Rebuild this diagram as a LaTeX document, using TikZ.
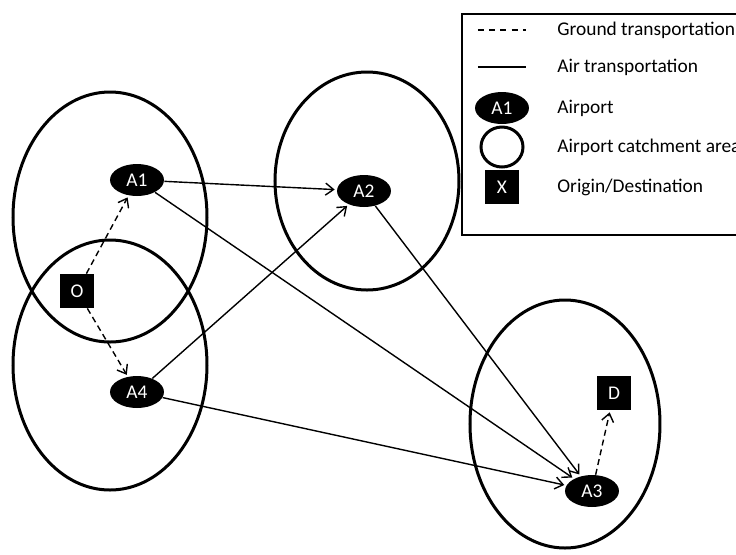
\documentclass[tikz,border=0pt]{standalone}
\usepackage{fontspec}
\setmainfont{Carlito}
\usetikzlibrary{arrows.meta,shapes.geometric}

\begin{document}
\begin{tikzpicture}[
  x=0.5pt, y=-0.5pt,
  font=\fontsize{9.7}{11}\selectfont,
  airport/.style = {ellipse, fill=black, text=white, inner sep=0pt,
                    minimum width=27pt, minimum height=16pt},
  odnode/.style  = {rectangle, fill=black, text=white, inner sep=0pt,
                    minimum size=17pt},
  area/.style    = {line width=1.5pt},
  air/.style     = {-{Straight Barb[length=4pt,width=6pt]}, line width=0.7pt, shorten >=1pt},
  ground/.style  = {air, dash pattern=on 3pt off 2pt},
  legtext/.style = {anchor=west, inner sep=0pt}
]
  \useasboundingbox (0,0) rectangle (736,554);
  \clip (0,0) rectangle (736,554);

  % catchment areas
  \draw[area] (110,217) ellipse (97 and 125);
  \draw[area] (110,365) ellipse (97 and 125);
  \draw[area] (367,181) ellipse (92 and 109);
  \draw[area] (565,424) ellipse (95 and 124);

  % airports and origin / destination
  \node[airport] (a1) at (137,180) {A1};
  \node[airport] (a2) at (364,191) {A2};
  \node[airport] (a4) at (137,392) {A4};
  \node[airport] (a3) at (592,491) {A3};
  \node[odnode] (o) at (77,291) {O};
  \node[odnode] (d) at (614,393) {D};

  \draw[ground] (o) -- (a1);
  \draw[ground] (o) -- (a4);
  \draw[ground] (a3) -- (d);
  \draw[air] (a1) -- (a2);
  \draw[air] (a1) -- (a3);
  \draw[air] (a4) -- (a2);
  \draw[air] (a4) -- (a3);
  \draw[air] (a2) -- (a3);

  % legend
  \draw[line width=0.75pt] (462,14) rectangle (760,235);
  \coordinate (gl1) at (478,30);
  \coordinate (gl2) at (526,30);
  \coordinate (al1) at (478,67);
  \coordinate (al2) at (526,67);
  \draw[line width=0.7pt, dash pattern=on 3pt off 2.6pt] (gl1) -- (gl2);
  \draw[line width=0.7pt] (al1) -- (al2);
  \node[airport] (legap) at (502,108) {A1};
  \node[ellipse, draw, line width=1.5pt, minimum width=21pt, minimum height=20pt,
        inner sep=0pt] (legarea) at (502,147) {};
  \node[odnode] (legod) at (502,187) {X};
  \node[legtext] (t1) at (557,30) {Ground transportation};
  \node[legtext] (t2) at (557,67) {Air transportation};
  \node[legtext] (t3) at (557,108) {Airport};
  \node[legtext] (t4) at (557,147) {Airport catchment area};
  \node[legtext] (t5) at (557,187) {Origin/Destination};
\end{tikzpicture}
\end{document}
